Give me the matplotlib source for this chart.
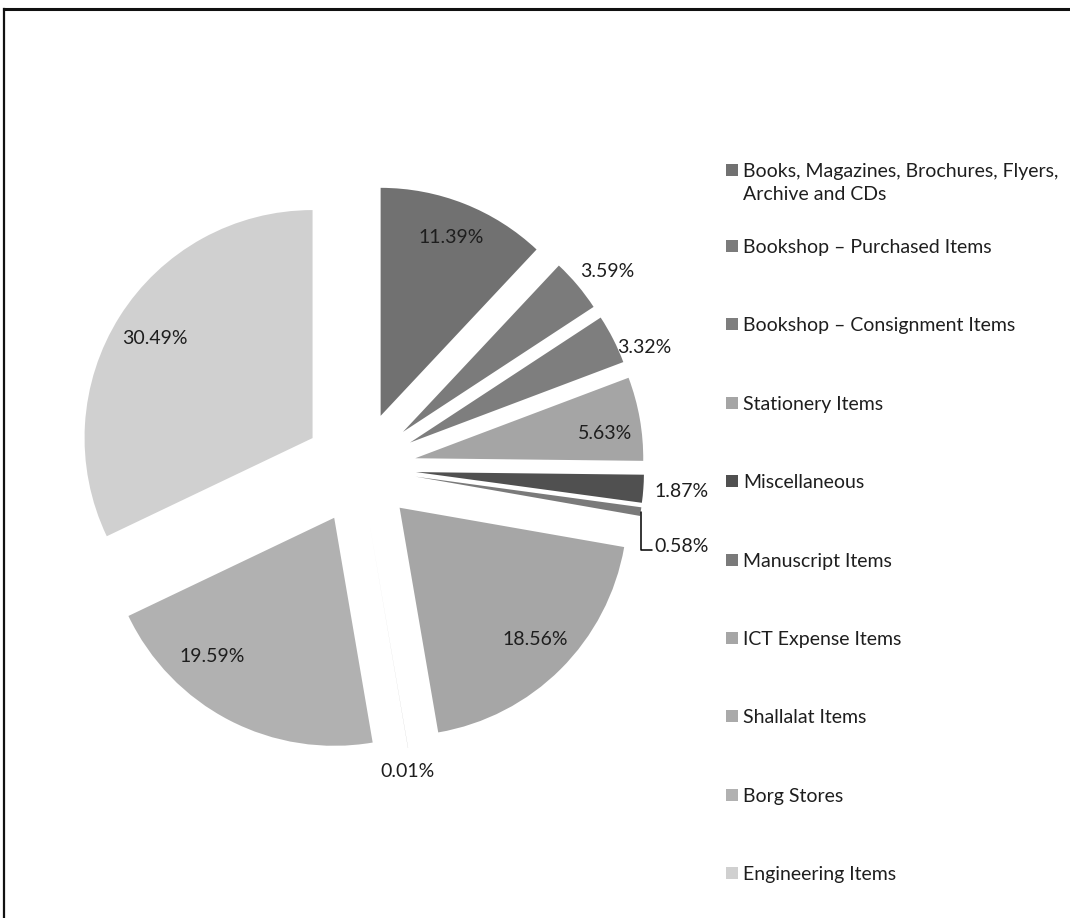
import numpy as np
import matplotlib.pyplot as plt
from matplotlib.patches import Rectangle
from matplotlib.lines import Line2D

plt.rcParams['font.family'] = ['Lato', 'DejaVu Sans']

categories = [
    'Books, Magazines, Brochures, Flyers,\nArchive and CDs',
    'Bookshop – Purchased Items',
    'Bookshop – Consignment Items',
    'Stationery Items',
    'Miscellaneous',
    'Manuscript Items',
    'ICT Expense Items',
    'Shallalat Items',
    'Borg Stores',
    'Engineering Items',
]
shares = [11.39, 3.59, 3.32, 5.63, 1.87, 0.58, 18.56, 0.01, 19.59, 30.49]
colors = ['#717171', '#7b7b7b', '#7e7e7e', '#a5a5a5', '#505050',
          '#7a7a7a', '#a6a6a6', '#aaaaaa', '#b1b1b1', '#d0d0d0']

# label placement: distance from the wedge centre (in radii) and a small
# clockwise nudge in degrees
label_dist = [0.84, 1.14, 1.11, 0.84, 1.17, 1.2, 0.83, 1.1, 0.81, 0.82]
label_nudge = [0, 2, 5, 2.5, 0, 6, -1, 1, 14, 0]

W, H = 1070, 918
fig = plt.figure(figsize=(W / 100, H / 100), dpi=100)
fig.patch.set_facecolor('white')
ax = fig.add_axes([0, 0, 1, 1])

wedges, _ = ax.pie(shares, explode=[0.246] * len(shares), colors=colors,
                   startangle=90, counterclock=False, radius=1,
                   wedgeprops=dict(linewidth=0))

# 228 px per data unit, pie centre at (360, 468) px
ppu = 228
ax.set_xlim(-360 / ppu, (W - 360) / ppu)
ax.set_ylim(-(H - 468) / ppu, 468 / ppu)
ax.set_aspect('auto')
ax.axis('off')

txt_color = '#1e1e1e'
for i, w in enumerate(wedges):
    mid = np.deg2rad((w.theta1 + w.theta2) / 2 - label_nudge[i])
    cx, cy = w.center
    lx = cx + label_dist[i] * w.r * np.cos(mid)
    ly = cy + label_dist[i] * w.r * np.sin(mid)
    s = f'{shares[i]:.2f}%'
    if categories[i] == 'Manuscript Items':
        amid = np.deg2rad((w.theta1 + w.theta2) / 2)
        tip = (cx + w.r * np.cos(amid), cy + w.r * np.sin(amid))
        ax.annotate(s, xy=tip, xytext=(lx - 0.11, ly), textcoords='data',
                    ha='left', va='center', fontsize=14, color=txt_color,
                    arrowprops=dict(arrowstyle='-', color='black', lw=1.1,
                                    shrinkA=0, shrinkB=0, relpos=(0, 0.3),
                                    connectionstyle='angle,angleA=0,angleB=90,rad=0'))
    else:
        ax.text(lx, ly, s, ha='center', va='center', fontsize=14, color=txt_color)

# legend drawn by hand, Excel-style spacing
leg_y = [170] + [246 + 78.4 * k for k in range(len(categories) - 1)]
for name, c, y in zip(categories, colors, leg_y):
    fig.add_artist(Rectangle((726 / W, 1 - (y + 6) / H), 12 / W, 12 / H,
                             transform=fig.transFigure, facecolor=c,
                             edgecolor='none'))
    fig.text(743 / W, 1 - (y - 7) / H, name, ha='left', va='top',
             fontsize=14, color=txt_color, linespacing=1.45)

# chart frame (only the top and left edges fall inside the image)
fig.add_artist(Line2D([4 / W, 1], [1 - 9 / H, 1 - 9 / H],
                      transform=fig.transFigure, color='#111111', lw=2.2))
fig.add_artist(Line2D([4 / W, 4 / W], [0, 1 - 9 / H],
                      transform=fig.transFigure, color='#111111', lw=1.6))

fig.savefig('out.png', dpi=100, facecolor='white')
